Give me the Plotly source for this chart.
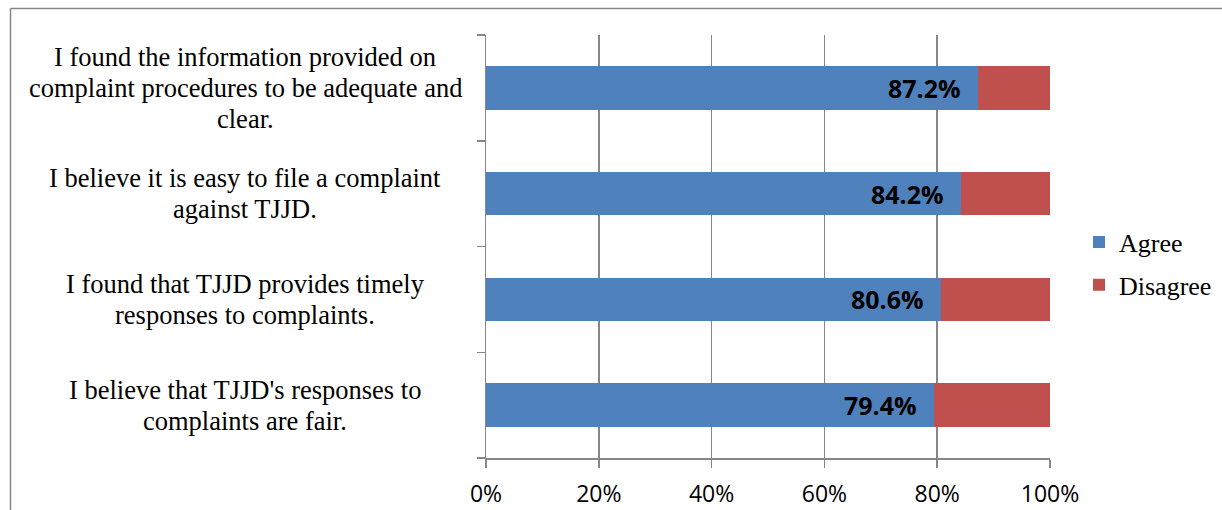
import plotly.graph_objects as go

categories = [
    "I found the information provided on<br>complaint procedures to be adequate and<br>clear.",
    "I believe it is easy to file a complaint<br>against TJJD.",
    "I found that TJJD provides timely<br>responses to complaints.",
    "I believe that TJJD's responses to<br>complaints are fair.",
]
agree = [87.2, 84.2, 80.6, 79.4]
disagree = [12.8, 15.8, 19.4, 20.6]
x_ticks = [0, 20, 40, 60, 80, 100]
x_tick_labels = ["0%", "20%", "40%", "60%", "80%", "100%"]

BLUE = "#4F81BD"
RED = "#C0504D"
GRID = "#878787"
SERIF = "Liberation Serif, Times New Roman, serif"
SANS = "Open Sans, Liberation Sans, sans-serif"

keys = [f"c{i}" for i in range(len(categories))]

fig = go.Figure()
fig.add_trace(go.Bar(
    y=keys, x=agree, orientation="h", name="Agree",
    marker=dict(color=BLUE, line=dict(width=0)),
    legendgroup="a", hoverinfo="skip",
))
fig.add_trace(go.Bar(
    y=keys, x=disagree, orientation="h", name="Disagree",
    marker=dict(color=RED, line=dict(width=0)),
    legendgroup="d", hoverinfo="skip",
))

LINE_H = 31
annotations = []
for k, lab in zip(keys, categories):
    lines = lab.split("<br>")
    n = len(lines)
    for i, ln in enumerate(lines):
        annotations.append(dict(
            x=0, xref="paper", y=k, yref="y", text=ln, showarrow=False,
            xanchor="center", yanchor="middle", align="center",
            xshift=-241, yshift=((n - 1) / 2 - i) * LINE_H,
            font=dict(family=SERIF, size=26.5, color="#000000"),
        ))
for k, v in zip(keys, agree):
    annotations.append(dict(
        x=v, xref="x", y=k, yref="y", text=f"<b>{v:.1f}%</b>", showarrow=False,
        xanchor="right", yanchor="middle", xshift=-15,
        font=dict(family=SANS, size=25, color="#000000"),
    ))

W, H = 1222, 510
L, R, T, B = 486, 1050, 35, 458
def px_x(p):
    return (p - L) / (R - L)
def px_y(p):
    return (B - p) / (B - T)

shapes = [
    dict(type="line", xref="paper", yref="paper", x0=px_x(10.5), x1=px_x(10.5),
         y0=px_y(8.5), y1=px_y(520), line=dict(color=GRID, width=1.5)),
    dict(type="line", xref="paper", yref="paper", x0=px_x(10.5), x1=px_x(1240),
         y0=px_y(8.5), y1=px_y(8.5), line=dict(color=GRID, width=1.5)),
]

fig.update_layout(
    width=W, height=H,
    margin=dict(l=L, r=W - R, t=T, b=H - B, autoexpand=False),
    barmode="stack", bargap=0.59,
    plot_bgcolor="white", paper_bgcolor="white",
    showlegend=True,
    legend=dict(
        xref="container", yref="container",
        x=1079 / W, y=1 - 263.5 / H,
        xanchor="left", yanchor="middle",
        traceorder="grouped", tracegroupgap=6,
        font=dict(family=SERIF, size=26, color="#000000"),
        bgcolor="rgba(0,0,0,0)",
    ),
    annotations=annotations,
    shapes=shapes,
    xaxis=dict(
        range=[0, 100], tickvals=x_ticks, ticktext=x_tick_labels,
        showgrid=True, gridcolor=GRID, gridwidth=1.5,
        showline=True, linecolor=GRID, linewidth=1.5,
        ticks="outside", ticklen=8, tickcolor=GRID, tickwidth=1.5,
        ticklabelstandoff=7, automargin=False,
        tickfont=dict(family=SANS, size=23, color="#000000"),
        zeroline=False, fixedrange=True,
    ),
    yaxis=dict(
        categoryorder="array", categoryarray=keys[::-1],
        showticklabels=False, tickson="boundaries", automargin=False,
        ticks="outside", ticklen=8, tickcolor=GRID, tickwidth=1.5,
        showline=True, linecolor=GRID, linewidth=1.5,
        showgrid=False, zeroline=False, fixedrange=True,
    ),
)

fig.write_html(
    "out.html",
    config={"displayModeBar": False, "staticPlot": True},
    post_script="document.body.style.margin='0';document.body.style.overflow='hidden';",
)
